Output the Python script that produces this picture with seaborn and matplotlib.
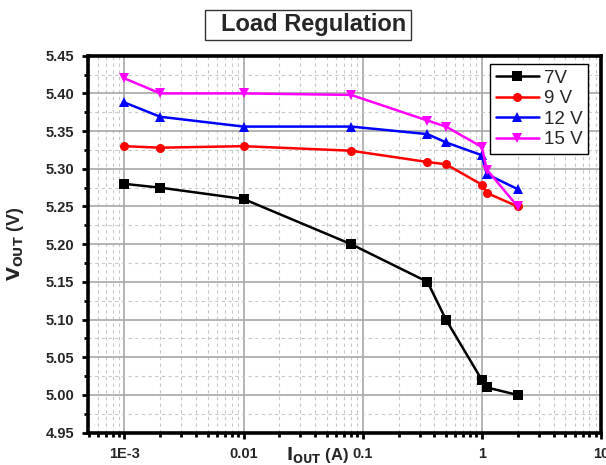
import numpy as np
import pandas as pd
import matplotlib
matplotlib.use("Agg")
import matplotlib.pyplot as plt
from matplotlib.patches import Rectangle
from matplotlib.ticker import FixedLocator, FixedFormatter, LogLocator, MultipleLocator, NullFormatter
import seaborn as sns

# ---- data ----
current_a = [0.001, 0.002, 0.01, 0.08, 0.35, 0.5, 1.0, 1.1, 2.0]
v_7 = [5.280, 5.275, 5.260, 5.200, 5.150, 5.100, 5.020, 5.010, 5.000]
v_9 = [5.330, 5.328, 5.330, 5.324, 5.309, 5.306, 5.279, 5.268, 5.250]
v_12 = [5.388, 5.369, 5.356, 5.356, 5.346, 5.335, 5.318, 5.293, 5.273]
v_15 = [5.420, 5.400, 5.400, 5.398, 5.364, 5.356, 5.329, 5.299, 5.250]
series_names = ["7V", "9 V", "12 V", "15 V"]
x_tick_vals = [1e-3, 1e-2, 1e-1, 1, 10]
x_tick_labels = ["1E-3", "0.01", "0.1", "1", "10"]
y_tick_vals = [4.95, 5.00, 5.05, 5.10, 5.15, 5.20, 5.25, 5.30, 5.35, 5.40, 5.45]

rows = []
for name, vals in zip(series_names, [v_7, v_9, v_12, v_15]):
    for x, y in zip(current_a, vals):
        rows.append({"I": x, "V": y, "series": name})
df = pd.DataFrame(rows)

sns.set_theme(style="white")
plt.rcParams["font.family"] = ["Liberation Sans", "DejaVu Sans"]

fig = plt.figure(figsize=(6.06, 4.65), dpi=100)
ax = fig.add_axes([0.1452, 0.0695, 0.8465, 0.8107])

palette = {"7V": "#000000", "9 V": "#ff0000", "12 V": "#0000ff", "15 V": "#ff00ff"}
markers = {"7V": "s", "9 V": "o", "12 V": "^", "15 V": "v"}

sns.lineplot(data=df, x="I", y="V", hue="series", style="series",
             palette=palette, markers=markers, dashes=False,
             hue_order=series_names, style_order=series_names,
             linewidth=1.8, markersize=6.5, markeredgewidth=0,
             ax=ax, legend=True, sort=False)

ax.set_xscale("log")
ax.set_xlim(4.95e-4, 10)
ax.set_ylim(4.95, 5.45)

ax.xaxis.set_major_locator(FixedLocator(x_tick_vals))
ax.xaxis.set_major_formatter(FixedFormatter(x_tick_labels))
ax.xaxis.set_minor_locator(LogLocator(base=10, subs=np.arange(2, 10)))
ax.xaxis.set_minor_formatter(NullFormatter())
ax.yaxis.set_major_locator(FixedLocator(y_tick_vals))
ax.yaxis.set_major_formatter(FixedFormatter([f"{v:.2f}" for v in y_tick_vals]))
ax.yaxis.set_minor_locator(MultipleLocator(0.025))

ax.grid(True, which="major", color="#a8a8a8", linewidth=1.2, linestyle="-")
ax.grid(True, which="minor", color="#c8c8c8", linewidth=0.8, linestyle=(0, (3, 3)))
ax.set_axisbelow(True)

for s in ax.spines.values():
    s.set_visible(True)
    s.set_color("black")
    s.set_linewidth(2.6)

ax.tick_params(axis="both", which="major", direction="out", length=4, width=2,
               color="black", labelsize=10.5, pad=6)
ax.tick_params(axis="both", which="minor", direction="out", length=3, width=2, color="black")
ax.tick_params(axis="both", which="both", bottom=True, left=True, top=False, right=False)
for lab in ax.get_xticklabels() + ax.get_yticklabels():
    lab.set_fontweight("bold")

ax.set_xlabel("")
fig.text(318 / 606, 1 - 455 / 465, r"$\mathbf{I_{OUT}}$ (A)", ha="center", va="center",
         fontsize=12, fontweight="bold")
ax.set_ylabel(r"$\mathbf{V_{OUT}}$ (V)", fontsize=13, fontweight="bold", labelpad=14)

leg = ax.legend(loc="upper right", bbox_to_anchor=(0.982, 0.988), frameon=True,
                fancybox=False, edgecolor="black", fontsize=13.5, handlelength=2.3,
                handletextpad=0.25, borderpad=0.3, labelspacing=0.18, title=None,
                borderaxespad=0.2)
leg.get_frame().set_linewidth(1.0)
leg.get_frame().set_facecolor("white")
leg.get_frame().set_alpha(1)

# title box
fig.patches.append(Rectangle((205 / 606, 1 - 40 / 465), 206 / 606, 30 / 465,
                             transform=fig.transFigure, facecolor="white",
                             edgecolor="#333333", linewidth=1.0, zorder=1))
fig.text(314 / 606, 1 - 24.5 / 465, "Load Regulation", ha="center", va="center",
         fontsize=17, fontweight="bold", zorder=2)

fig.savefig("out.png", dpi=100)
